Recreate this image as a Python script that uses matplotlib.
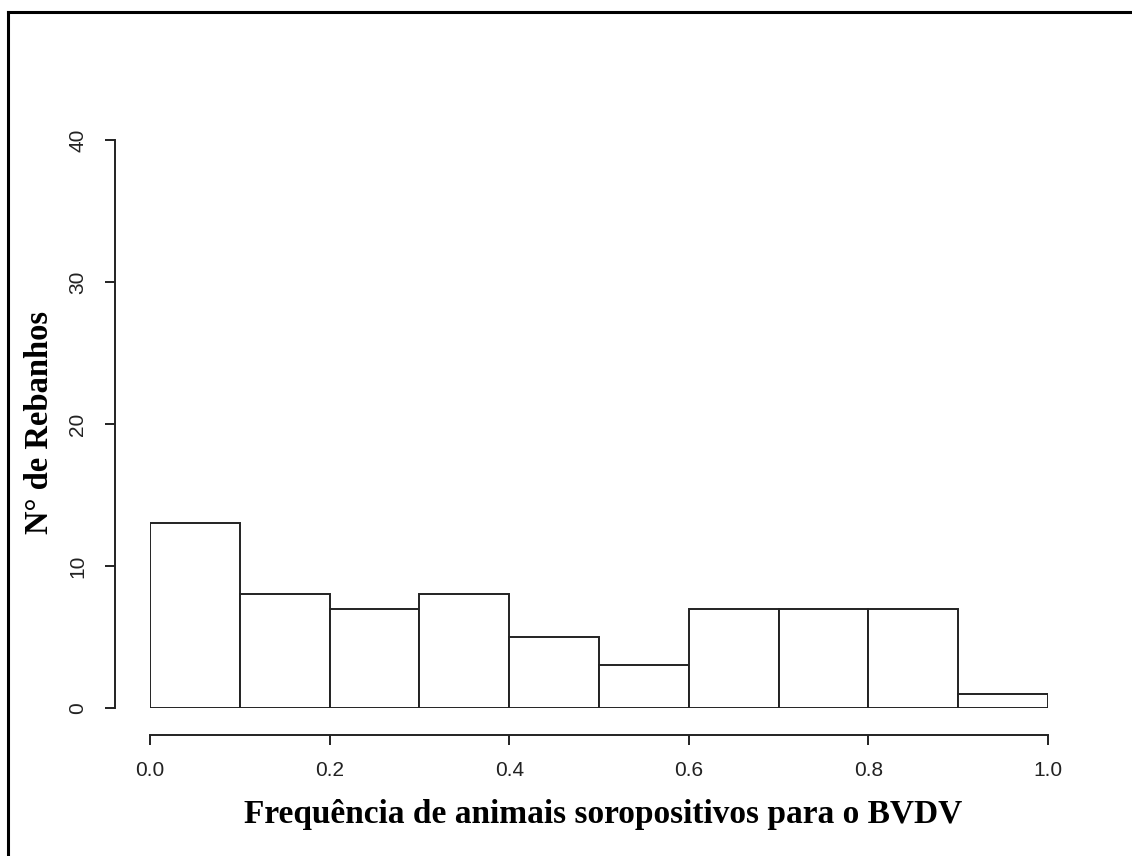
import matplotlib
matplotlib.use("Agg")
from matplotlib import pyplot as plt
from matplotlib.lines import Line2D
import numpy as np

bin_edges = [0.0, 0.1, 0.2, 0.3, 0.4, 0.5, 0.6, 0.7, 0.8, 0.9, 1.0]
counts = [13, 8, 7, 8, 5, 3, 7, 7, 7, 1]
x_ticks = [0.0, 0.2, 0.4, 0.6, 0.8, 1.0]
y_ticks = [0, 10, 20, 30, 40]

W, H = 1132, 856
fig = plt.figure(figsize=(W / 100, H / 100), dpi=100)
ax = fig.add_axes([150 / W, (H - 708) / H, (1048 - 150) / W, (708 - 140) / H])

ax.bar(bin_edges[:-1], counts, width=np.diff(bin_edges), align='edge',
       facecolor='white', edgecolor='#222222', linewidth=1.4)

ax.set_xlim(0, 1)
ax.set_ylim(0, 40)
for s in ['top', 'right']:
    ax.spines[s].set_visible(False)
ax.spines['left'].set_position(('outward', 25))
ax.spines['bottom'].set_position(('outward', 19.5))
ax.spines['left'].set_bounds(0, 40)
ax.spines['bottom'].set_bounds(0, 1)
for s in ['left', 'bottom']:
    ax.spines[s].set_linewidth(1.4)
    ax.spines[s].set_color('#222222')

ax.set_xticks(x_ticks)
ax.set_xticklabels(['%.1f' % v for v in x_ticks])
ax.set_yticks(y_ticks)
ax.set_yticklabels([str(v) for v in y_ticks], rotation=90, va='center')
ax.tick_params(axis='both', length=7, width=1.4, color='#222222',
               labelsize=15, labelcolor='#222222')
ax.tick_params(axis='x', pad=12)
ax.tick_params(axis='y', pad=13)
for lab in ax.get_xticklabels() + ax.get_yticklabels():
    lab.set_family('Liberation Sans')

fig.text(603 / W, 1 - 815 / H, 'Frequência de animais soropositivos para o BVDV',
         ha='center', va='center', fontsize=24, fontweight='bold',
         family='Liberation Serif')
fig.text(40 / W, 1 - 423 / H, 'N° de Rebanhos', ha='center', va='center',
         rotation=90, fontsize=23.5, fontweight='bold', family='Liberation Serif')

# frame of the screenshot (left and top edges)
fig.add_artist(Line2D([8 / W, 8 / W], [0, 1 - 12 / H], transform=fig.transFigure,
                      color='black', linewidth=2.2))
fig.add_artist(Line2D([8 / W, 1], [1 - 12 / H, 1 - 12 / H], transform=fig.transFigure,
                      color='black', linewidth=2.2))

fig.savefig('out.png', dpi=100)
